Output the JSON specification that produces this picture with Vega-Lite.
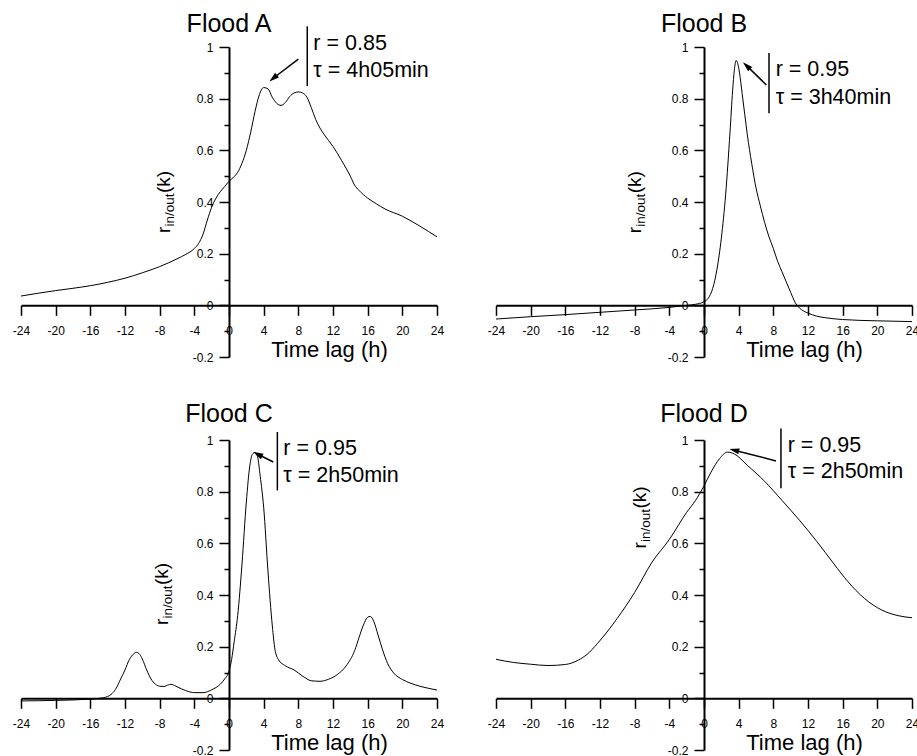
{
  "$schema": "https://vega.github.io/schema/vega-lite/v6.json",
  "background": "white",
  "padding": {"left": 12, "top": 12, "right": 0, "bottom": 0},
  "config": {
    "font": "Liberation Sans",
    "view": {"stroke": null},
    "text": {"font": "Liberation Sans", "color": "black"},
    "axis": {"labelFont": "Liberation Sans", "titleFont": "Liberation Sans", "grid": false, "labelFontSize": 12, "labelColor": "black", "labelOverlap": false, "labelFlush": false, "labelSeparation": 0, "tickColor": "black", "tickWidth": 1.5, "domainColor": "black", "domainWidth": 2, "titleColor": "black", "titleFontWeight": "normal"}
  },
  "datasets": {
    "curves": [
      {"flood":"A","lag":-24,"r":0.036},{"flood":"A","lag":-22,"r":0.047},{"flood":"A","lag":-20,"r":0.057},{"flood":"A","lag":-18,"r":0.066},{"flood":"A","lag":-16,"r":0.076},{"flood":"A","lag":-14,"r":0.089},{"flood":"A","lag":-12,"r":0.105},{"flood":"A","lag":-10,"r":0.126},{"flood":"A","lag":-8,"r":0.15},{"flood":"A","lag":-6,"r":0.18},{"flood":"A","lag":-5,"r":0.197},{"flood":"A","lag":-4,"r":0.22},{"flood":"A","lag":-3.5,"r":0.24},{"flood":"A","lag":-3,"r":0.275},{"flood":"A","lag":-2.5,"r":0.33},{"flood":"A","lag":-2,"r":0.38},{"flood":"A","lag":-1.5,"r":0.415},{"flood":"A","lag":-1,"r":0.44},{"flood":"A","lag":-0.5,"r":0.46},{"flood":"A","lag":0,"r":0.48},{"flood":"A","lag":0.5,"r":0.495},{"flood":"A","lag":1,"r":0.515},{"flood":"A","lag":1.5,"r":0.55},{"flood":"A","lag":2,"r":0.6},{"flood":"A","lag":2.5,"r":0.67},{"flood":"A","lag":3,"r":0.75},{"flood":"A","lag":3.5,"r":0.815},{"flood":"A","lag":4,"r":0.843},{"flood":"A","lag":4.5,"r":0.838},{"flood":"A","lag":5,"r":0.805},{"flood":"A","lag":5.5,"r":0.782},{"flood":"A","lag":6,"r":0.774},{"flood":"A","lag":6.5,"r":0.785},{"flood":"A","lag":7,"r":0.808},{"flood":"A","lag":7.5,"r":0.822},{"flood":"A","lag":8,"r":0.826},{"flood":"A","lag":8.5,"r":0.822},{"flood":"A","lag":9,"r":0.805},{"flood":"A","lag":9.5,"r":0.765},{"flood":"A","lag":10,"r":0.72},{"flood":"A","lag":10.5,"r":0.686},{"flood":"A","lag":11,"r":0.66},{"flood":"A","lag":12,"r":0.615},{"flood":"A","lag":13,"r":0.56},{"flood":"A","lag":14,"r":0.5},{"flood":"A","lag":14.5,"r":0.465},{"flood":"A","lag":15,"r":0.445},{"flood":"A","lag":16,"r":0.415},{"flood":"A","lag":17,"r":0.393},{"flood":"A","lag":18,"r":0.373},{"flood":"A","lag":20,"r":0.345},{"flood":"A","lag":22,"r":0.307},{"flood":"A","lag":24,"r":0.265},
      {"flood":"B","lag":-24,"r":-0.053},{"flood":"B","lag":-20,"r":-0.044},{"flood":"B","lag":-16,"r":-0.036},{"flood":"B","lag":-12,"r":-0.027},{"flood":"B","lag":-8,"r":-0.018},{"flood":"B","lag":-4,"r":-0.008},{"flood":"B","lag":-2,"r":0},{"flood":"B","lag":-1,"r":0.004},{"flood":"B","lag":0,"r":0.014},{"flood":"B","lag":0.5,"r":0.028},{"flood":"B","lag":1,"r":0.065},{"flood":"B","lag":1.5,"r":0.14},{"flood":"B","lag":2,"r":0.26},{"flood":"B","lag":2.5,"r":0.43},{"flood":"B","lag":3,"r":0.67},{"flood":"B","lag":3.3,"r":0.83},{"flood":"B","lag":3.5,"r":0.91},{"flood":"B","lag":3.7,"r":0.948},{"flood":"B","lag":3.9,"r":0.935},{"flood":"B","lag":4.1,"r":0.9},{"flood":"B","lag":4.4,"r":0.82},{"flood":"B","lag":4.7,"r":0.74},{"flood":"B","lag":5,"r":0.66},{"flood":"B","lag":5.5,"r":0.55},{"flood":"B","lag":6,"r":0.455},{"flood":"B","lag":6.5,"r":0.385},{"flood":"B","lag":7,"r":0.32},{"flood":"B","lag":7.5,"r":0.265},{"flood":"B","lag":8,"r":0.22},{"flood":"B","lag":8.5,"r":0.17},{"flood":"B","lag":9,"r":0.13},{"flood":"B","lag":9.5,"r":0.09},{"flood":"B","lag":10,"r":0.05},{"flood":"B","lag":10.5,"r":0.012},{"flood":"B","lag":11,"r":-0.01},{"flood":"B","lag":11.5,"r":-0.022},{"flood":"B","lag":12,"r":-0.03},{"flood":"B","lag":13,"r":-0.042},{"flood":"B","lag":14,"r":-0.048},{"flood":"B","lag":16,"r":-0.055},{"flood":"B","lag":20,"r":-0.06},{"flood":"B","lag":24,"r":-0.063},
      {"flood":"C","lag":-24,"r":-0.01},{"flood":"C","lag":-20,"r":-0.008},{"flood":"C","lag":-16,"r":-0.003},{"flood":"C","lag":-15,"r":0},{"flood":"C","lag":-14,"r":0.007},{"flood":"C","lag":-13.5,"r":0.018},{"flood":"C","lag":-13,"r":0.04},{"flood":"C","lag":-12.5,"r":0.075},{"flood":"C","lag":-12,"r":0.11},{"flood":"C","lag":-11.5,"r":0.15},{"flood":"C","lag":-11,"r":0.172},{"flood":"C","lag":-10.7,"r":0.178},{"flood":"C","lag":-10.3,"r":0.17},{"flood":"C","lag":-10,"r":0.152},{"flood":"C","lag":-9.5,"r":0.11},{"flood":"C","lag":-9,"r":0.075},{"flood":"C","lag":-8.5,"r":0.055},{"flood":"C","lag":-8,"r":0.047},{"flood":"C","lag":-7.5,"r":0.046},{"flood":"C","lag":-7,"r":0.052},{"flood":"C","lag":-6.7,"r":0.054},{"flood":"C","lag":-6.3,"r":0.05},{"flood":"C","lag":-6,"r":0.045},{"flood":"C","lag":-5,"r":0.03},{"flood":"C","lag":-4,"r":0.022},{"flood":"C","lag":-3,"r":0.022},{"flood":"C","lag":-2,"r":0.033},{"flood":"C","lag":-1,"r":0.055},{"flood":"C","lag":-0.5,"r":0.075},{"flood":"C","lag":0,"r":0.105},{"flood":"C","lag":0.3,"r":0.15},{"flood":"C","lag":0.6,"r":0.22},{"flood":"C","lag":1,"r":0.32},{"flood":"C","lag":1.5,"r":0.52},{"flood":"C","lag":2,"r":0.76},{"flood":"C","lag":2.4,"r":0.9},{"flood":"C","lag":2.7,"r":0.945},{"flood":"C","lag":3,"r":0.952},{"flood":"C","lag":3.3,"r":0.935},{"flood":"C","lag":3.6,"r":0.86},{"flood":"C","lag":4,"r":0.74},{"flood":"C","lag":4.5,"r":0.49},{"flood":"C","lag":5,"r":0.28},{"flood":"C","lag":5.3,"r":0.19},{"flood":"C","lag":5.7,"r":0.15},{"flood":"C","lag":6.5,"r":0.126},{"flood":"C","lag":7.5,"r":0.11},{"flood":"C","lag":8.5,"r":0.086},{"flood":"C","lag":9.5,"r":0.068},{"flood":"C","lag":10.5,"r":0.066},{"flood":"C","lag":11.5,"r":0.074},{"flood":"C","lag":12.5,"r":0.092},{"flood":"C","lag":13.5,"r":0.125},{"flood":"C","lag":14.5,"r":0.185},{"flood":"C","lag":15,"r":0.235},{"flood":"C","lag":15.5,"r":0.283},{"flood":"C","lag":16,"r":0.314},{"flood":"C","lag":16.3,"r":0.317},{"flood":"C","lag":16.7,"r":0.298},{"flood":"C","lag":17.2,"r":0.245},{"flood":"C","lag":17.7,"r":0.19},{"flood":"C","lag":18.3,"r":0.135},{"flood":"C","lag":19,"r":0.098},{"flood":"C","lag":20,"r":0.073},{"flood":"C","lag":21,"r":0.058},{"flood":"C","lag":22,"r":0.047},{"flood":"C","lag":23,"r":0.039},{"flood":"C","lag":24,"r":0.032},
      {"flood":"D","lag":-24,"r":0.151},{"flood":"D","lag":-22,"r":0.139},{"flood":"D","lag":-20,"r":0.132},{"flood":"D","lag":-18,"r":0.127},{"flood":"D","lag":-16,"r":0.131},{"flood":"D","lag":-14.5,"r":0.148},{"flood":"D","lag":-13.5,"r":0.17},{"flood":"D","lag":-12.3,"r":0.212},{"flood":"D","lag":-11,"r":0.265},{"flood":"D","lag":-10,"r":0.31},{"flood":"D","lag":-8,"r":0.41},{"flood":"D","lag":-6,"r":0.527},{"flood":"D","lag":-4,"r":0.615},{"flood":"D","lag":-2,"r":0.72},{"flood":"D","lag":-1,"r":0.765},{"flood":"D","lag":0,"r":0.822},{"flood":"D","lag":0.8,"r":0.875},{"flood":"D","lag":1.8,"r":0.928},{"flood":"D","lag":2.7,"r":0.953},{"flood":"D","lag":3.5,"r":0.946},{"flood":"D","lag":5,"r":0.902},{"flood":"D","lag":7,"r":0.84},{"flood":"D","lag":9,"r":0.766},{"flood":"D","lag":11,"r":0.69},{"flood":"D","lag":13,"r":0.608},{"flood":"D","lag":15,"r":0.52},{"flood":"D","lag":16.6,"r":0.452},{"flood":"D","lag":18.5,"r":0.387},{"flood":"D","lag":20.5,"r":0.342},{"flood":"D","lag":22.4,"r":0.32},{"flood":"D","lag":24,"r":0.312}
    ],
    "notes": [
      {"flood":"A","title":"Flood A","r_label":"r = 0.85","tau_label":"τ = 4h05min"},
      {"flood":"B","title":"Flood B","r_label":"r = 0.95","tau_label":"τ = 3h40min"},
      {"flood":"C","title":"Flood C","r_label":"r = 0.95","tau_label":"τ = 2h50min"},
      {"flood":"D","title":"Flood D","r_label":"r = 0.95","tau_label":"τ = 2h50min"}
    ]
  },
  "concat": [
    {
      "width": 416, "height": 310,
      "resolve": {"axis": {"x": "independent", "y": "independent"}},
      "layer": [
        {"data": {"name": "curves"}, "transform": [{"filter": "datum.flood === 'A'"}],
         "mark": {"type": "line", "color": "black", "strokeWidth": 1, "interpolate": "monotone"},
         "encoding": {
           "x": {"field": "lag", "type": "quantitative", "scale": {"domain": [-24, 24], "nice": false, "zero": false},
                 "axis": {"orient": "bottom", "title": "Time lag (h)", "titleFontSize": 22, "titleX": 308, "titleY": 51, "titleBaseline": "alphabetic", "titleAlign": "center", "offset": -51.67, "values": [-24,-20,-16,-12,-8,-4,0,4,8,12,16,20,24], "labelExpr": "'' + datum.value", "labelFontSize": 12, "labelOverlap": false, "labelFlush": false, "labelPadding": 10, "tickSize": 10}},
           "y": {"field": "r", "type": "quantitative", "scale": {"domain": [-0.2, 1], "nice": false, "zero": false},
                 "axis": {"orient": "left", "title": null, "offset": -208, "values": [-0.2,-0.1,0,0.1,0.2,0.3,0.4,0.5,0.6,0.7,0.8,0.9,1], "labelExpr": "round(datum.value*10) % 2 == 0 ? '' + datum.value : ''", "labelFontSize": 12, "labelOverlap": false, "labelFlush": false, "labelPadding": 6, "tickSize": {"condition": {"test": "round(datum.value*10) % 2 == 0", "value": 10}, "value": 5}}}
         }},
        {"data": {"name": "notes"}, "transform": [{"filter": "datum.flood === 'A'"}],
         "mark": {"type": "text", "align": "center", "baseline": "alphabetic", "fontSize": 25},
         "encoding": {"x": {"datum": 0, "axis": null}, "y": {"datum": 1.058, "axis": null}, "text": {"field": "title"}}},
        {"data": {"name": "notes"}, "transform": [{"filter": "datum.flood === 'A'"}],
         "mark": {"type": "rule", "color": "black", "strokeWidth": 1.5},
         "encoding": {"x": {"datum": 9.03, "axis": null}, "y": {"datum": 1.08, "axis": null}, "y2": {"datum": 0.849}}},
        {"data": {"name": "notes"}, "transform": [{"filter": "datum.flood === 'A'"}],
         "mark": {"type": "rule", "color": "black", "strokeWidth": 1.5},
         "encoding": {"x": {"datum": 8.0, "axis": null}, "y": {"datum": 0.953, "axis": null}, "x2": {"datum": 5.1}, "y2": {"datum": 0.879}}},
        {"data": {"name": "notes"}, "transform": [{"filter": "datum.flood === 'A'"}],
         "mark": {"type": "point", "shape": "M0,-1L0.6,1L-0.6,1Z", "filled": true, "color": "black", "opacity": 1, "size": 100, "angle": 230.4},
         "encoding": {"x": {"datum": 5.1, "axis": null}, "y": {"datum": 0.879, "axis": null}}},
        {"data": {"name": "notes"}, "transform": [{"filter": "datum.flood === 'A'"}],
         "mark": {"type": "text", "align": "left", "baseline": "alphabetic", "fontSize": 21.5},
         "encoding": {"x": {"datum": 9.73, "axis": null}, "y": {"datum": 0.987, "axis": null}, "text": {"field": "r_label"}}},
        {"data": {"name": "notes"}, "transform": [{"filter": "datum.flood === 'A'"}],
         "mark": {"type": "text", "align": "left", "baseline": "alphabetic", "fontSize": 21.5},
         "encoding": {"x": {"datum": 9.73, "axis": null}, "y": {"datum": 0.884, "axis": null}, "text": {"field": "tau_label"}}},
        {"data": {"name": "notes"}, "transform": [{"filter": "datum.flood === 'A'"}],
         "mark": {"type": "text", "align": "left", "baseline": "alphabetic", "fontSize": 19, "angle": 270},
         "encoding": {"x": {"datum": -6.81, "axis": null}, "y": {"datum": 0.28, "axis": null}, "text": {"value": "r"}}},
        {"data": {"name": "notes"}, "transform": [{"filter": "datum.flood === 'A'"}],
         "mark": {"type": "text", "align": "left", "baseline": "alphabetic", "fontSize": 13.5, "angle": 270, "dx": 6.5, "dy": 4},
         "encoding": {"x": {"datum": -6.81, "axis": null}, "y": {"datum": 0.28, "axis": null}, "text": {"value": "in/out"}}},
        {"data": {"name": "notes"}, "transform": [{"filter": "datum.flood === 'A'"}],
         "mark": {"type": "text", "align": "left", "baseline": "alphabetic", "fontSize": 19, "angle": 270, "dx": 40},
         "encoding": {"x": {"datum": -6.81, "axis": null}, "y": {"datum": 0.28, "axis": null}, "text": {"value": "(k)"}}}
      ]
    },
    {
      "width": 416, "height": 310,
      "resolve": {"axis": {"x": "independent", "y": "independent"}},
      "layer": [
        {"data": {"name": "curves"}, "transform": [{"filter": "datum.flood === 'B'"}],
         "mark": {"type": "line", "color": "black", "strokeWidth": 1, "interpolate": "monotone"},
         "encoding": {
           "x": {"field": "lag", "type": "quantitative", "scale": {"domain": [-24, 24], "nice": false, "zero": false},
                 "axis": {"orient": "bottom", "title": "Time lag (h)", "titleFontSize": 22, "titleX": 308, "titleY": 51, "titleBaseline": "alphabetic", "titleAlign": "center", "offset": -51.67, "values": [-24,-20,-16,-12,-8,-4,0,4,8,12,16,20,24], "labelExpr": "'' + datum.value", "labelFontSize": 12, "labelOverlap": false, "labelFlush": false, "labelPadding": 10, "tickSize": 10}},
           "y": {"field": "r", "type": "quantitative", "scale": {"domain": [-0.2, 1], "nice": false, "zero": false},
                 "axis": {"orient": "left", "title": null, "offset": -208, "values": [-0.2,-0.1,0,0.1,0.2,0.3,0.4,0.5,0.6,0.7,0.8,0.9,1], "labelExpr": "round(datum.value*10) % 2 == 0 ? '' + datum.value : ''", "labelFontSize": 12, "labelOverlap": false, "labelFlush": false, "labelPadding": 6, "tickSize": {"condition": {"test": "round(datum.value*10) % 2 == 0", "value": 10}, "value": 5}}}
         }},
        {"data": {"name": "notes"}, "transform": [{"filter": "datum.flood === 'B'"}],
         "mark": {"type": "text", "align": "center", "baseline": "alphabetic", "fontSize": 25},
         "encoding": {"x": {"datum": 0, "axis": null}, "y": {"datum": 1.058, "axis": null}, "text": {"field": "title"}}},
        {"data": {"name": "notes"}, "transform": [{"filter": "datum.flood === 'B'"}],
         "mark": {"type": "rule", "color": "black", "strokeWidth": 1.5},
         "encoding": {"x": {"datum": 7.5, "axis": null}, "y": {"datum": 0.977, "axis": null}, "y2": {"datum": 0.744}}},
        {"data": {"name": "notes"}, "transform": [{"filter": "datum.flood === 'B'"}],
         "mark": {"type": "rule", "color": "black", "strokeWidth": 1.5},
         "encoding": {"x": {"datum": 7.2, "axis": null}, "y": {"datum": 0.853, "axis": null}, "x2": {"datum": 4.91}, "y2": {"datum": 0.928}}},
        {"data": {"name": "notes"}, "transform": [{"filter": "datum.flood === 'B'"}],
         "mark": {"type": "point", "shape": "M0,-1L0.6,1L-0.6,1Z", "filled": true, "color": "black", "opacity": 1, "size": 100, "angle": 314},
         "encoding": {"x": {"datum": 4.91, "axis": null}, "y": {"datum": 0.928, "axis": null}}},
        {"data": {"name": "notes"}, "transform": [{"filter": "datum.flood === 'B'"}],
         "mark": {"type": "text", "align": "left", "baseline": "alphabetic", "fontSize": 21.5},
         "encoding": {"x": {"datum": 8.27, "axis": null}, "y": {"datum": 0.886, "axis": null}, "text": {"field": "r_label"}}},
        {"data": {"name": "notes"}, "transform": [{"filter": "datum.flood === 'B'"}],
         "mark": {"type": "text", "align": "left", "baseline": "alphabetic", "fontSize": 21.5},
         "encoding": {"x": {"datum": 8.27, "axis": null}, "y": {"datum": 0.78, "axis": null}, "text": {"field": "tau_label"}}},
        {"data": {"name": "notes"}, "transform": [{"filter": "datum.flood === 'B'"}],
         "mark": {"type": "text", "align": "left", "baseline": "alphabetic", "fontSize": 19, "angle": 270},
         "encoding": {"x": {"datum": -7.27, "axis": null}, "y": {"datum": 0.279, "axis": null}, "text": {"value": "r"}}},
        {"data": {"name": "notes"}, "transform": [{"filter": "datum.flood === 'B'"}],
         "mark": {"type": "text", "align": "left", "baseline": "alphabetic", "fontSize": 13.5, "angle": 270, "dx": 6.5, "dy": 4},
         "encoding": {"x": {"datum": -7.27, "axis": null}, "y": {"datum": 0.279, "axis": null}, "text": {"value": "in/out"}}},
        {"data": {"name": "notes"}, "transform": [{"filter": "datum.flood === 'B'"}],
         "mark": {"type": "text", "align": "left", "baseline": "alphabetic", "fontSize": 19, "angle": 270, "dx": 40},
         "encoding": {"x": {"datum": -7.27, "axis": null}, "y": {"datum": 0.279, "axis": null}, "text": {"value": "(k)"}}}
      ]
    },
    {
      "width": 416, "height": 310,
      "resolve": {"axis": {"x": "independent", "y": "independent"}},
      "layer": [
        {"data": {"name": "curves"}, "transform": [{"filter": "datum.flood === 'C'"}],
         "mark": {"type": "line", "color": "black", "strokeWidth": 1, "interpolate": "monotone"},
         "encoding": {
           "x": {"field": "lag", "type": "quantitative", "scale": {"domain": [-24, 24], "nice": false, "zero": false},
                 "axis": {"orient": "bottom", "title": "Time lag (h)", "titleFontSize": 22, "titleX": 308, "titleY": 51, "titleBaseline": "alphabetic", "titleAlign": "center", "offset": -51.67, "values": [-24,-20,-16,-12,-8,-4,0,4,8,12,16,20,24], "labelExpr": "'' + datum.value", "labelFontSize": 12, "labelOverlap": false, "labelFlush": false, "labelPadding": 10, "tickSize": 10}},
           "y": {"field": "r", "type": "quantitative", "scale": {"domain": [-0.2, 1], "nice": false, "zero": false},
                 "axis": {"orient": "left", "title": null, "offset": -208, "values": [-0.2,-0.1,0,0.1,0.2,0.3,0.4,0.5,0.6,0.7,0.8,0.9,1], "labelExpr": "round(datum.value*10) % 2 == 0 ? '' + datum.value : ''", "labelFontSize": 12, "labelOverlap": false, "labelFlush": false, "labelPadding": 6, "tickSize": {"condition": {"test": "round(datum.value*10) % 2 == 0", "value": 10}, "value": 5}}}
         }},
        {"data": {"name": "notes"}, "transform": [{"filter": "datum.flood === 'C'"}],
         "mark": {"type": "text", "align": "center", "baseline": "alphabetic", "fontSize": 25},
         "encoding": {"x": {"datum": 0, "axis": null}, "y": {"datum": 1.0685, "axis": null}, "text": {"field": "title"}}},
        {"data": {"name": "notes"}, "transform": [{"filter": "datum.flood === 'C'"}],
         "mark": {"type": "rule", "color": "black", "strokeWidth": 1.5},
         "encoding": {"x": {"datum": 5.58, "axis": null}, "y": {"datum": 1.031, "axis": null}, "y2": {"datum": 0.805}}},
        {"data": {"name": "notes"}, "transform": [{"filter": "datum.flood === 'C'"}],
         "mark": {"type": "rule", "color": "black", "strokeWidth": 1.5},
         "encoding": {"x": {"datum": 5.11, "axis": null}, "y": {"datum": 0.915, "axis": null}, "x2": {"datum": 3.32}, "y2": {"datum": 0.945}}},
        {"data": {"name": "notes"}, "transform": [{"filter": "datum.flood === 'C'"}],
         "mark": {"type": "point", "shape": "M0,-1L0.6,1L-0.6,1Z", "filled": true, "color": "black", "opacity": 1, "size": 100, "angle": 296.6},
         "encoding": {"x": {"datum": 3.32, "axis": null}, "y": {"datum": 0.945, "axis": null}}},
        {"data": {"name": "notes"}, "transform": [{"filter": "datum.flood === 'C'"}],
         "mark": {"type": "text", "align": "left", "baseline": "alphabetic", "fontSize": 21.5},
         "encoding": {"x": {"datum": 6.27, "axis": null}, "y": {"datum": 0.941, "axis": null}, "text": {"field": "r_label"}}},
        {"data": {"name": "notes"}, "transform": [{"filter": "datum.flood === 'C'"}],
         "mark": {"type": "text", "align": "left", "baseline": "alphabetic", "fontSize": 21.5},
         "encoding": {"x": {"datum": 6.27, "axis": null}, "y": {"datum": 0.837, "axis": null}, "text": {"field": "tau_label"}}},
        {"data": {"name": "notes"}, "transform": [{"filter": "datum.flood === 'C'"}],
         "mark": {"type": "text", "align": "left", "baseline": "alphabetic", "fontSize": 19, "angle": 270},
         "encoding": {"x": {"datum": -6.99, "axis": null}, "y": {"datum": 0.284, "axis": null}, "text": {"value": "r"}}},
        {"data": {"name": "notes"}, "transform": [{"filter": "datum.flood === 'C'"}],
         "mark": {"type": "text", "align": "left", "baseline": "alphabetic", "fontSize": 13.5, "angle": 270, "dx": 6.5, "dy": 4},
         "encoding": {"x": {"datum": -6.99, "axis": null}, "y": {"datum": 0.284, "axis": null}, "text": {"value": "in/out"}}},
        {"data": {"name": "notes"}, "transform": [{"filter": "datum.flood === 'C'"}],
         "mark": {"type": "text", "align": "left", "baseline": "alphabetic", "fontSize": 19, "angle": 270, "dx": 40},
         "encoding": {"x": {"datum": -6.99, "axis": null}, "y": {"datum": 0.284, "axis": null}, "text": {"value": "(k)"}}}
      ]
    },
    {
      "width": 416, "height": 310,
      "resolve": {"axis": {"x": "independent", "y": "independent"}},
      "layer": [
        {"data": {"name": "curves"}, "transform": [{"filter": "datum.flood === 'D'"}],
         "mark": {"type": "line", "color": "black", "strokeWidth": 1, "interpolate": "monotone"},
         "encoding": {
           "x": {"field": "lag", "type": "quantitative", "scale": {"domain": [-24, 24], "nice": false, "zero": false},
                 "axis": {"orient": "bottom", "title": "Time lag (h)", "titleFontSize": 22, "titleX": 308, "titleY": 51, "titleBaseline": "alphabetic", "titleAlign": "center", "offset": -51.67, "values": [-24,-20,-16,-12,-8,-4,0,4,8,12,16,20,24], "labelExpr": "'' + datum.value", "labelFontSize": 12, "labelOverlap": false, "labelFlush": false, "labelPadding": 10, "tickSize": 10}},
           "y": {"field": "r", "type": "quantitative", "scale": {"domain": [-0.2, 1], "nice": false, "zero": false},
                 "axis": {"orient": "left", "title": null, "offset": -208, "values": [-0.2,-0.1,0,0.1,0.2,0.3,0.4,0.5,0.6,0.7,0.8,0.9,1], "labelExpr": "round(datum.value*10) % 2 == 0 ? '' + datum.value : ''", "labelFontSize": 12, "labelOverlap": false, "labelFlush": false, "labelPadding": 6, "tickSize": {"condition": {"test": "round(datum.value*10) % 2 == 0", "value": 10}, "value": 5}}}
         }},
        {"data": {"name": "notes"}, "transform": [{"filter": "datum.flood === 'D'"}],
         "mark": {"type": "text", "align": "center", "baseline": "alphabetic", "fontSize": 25},
         "encoding": {"x": {"datum": 0, "axis": null}, "y": {"datum": 1.0685, "axis": null}, "text": {"field": "title"}}},
        {"data": {"name": "notes"}, "transform": [{"filter": "datum.flood === 'D'"}],
         "mark": {"type": "rule", "color": "black", "strokeWidth": 1.5},
         "encoding": {"x": {"datum": 8.88, "axis": null}, "y": {"datum": 1.045, "axis": null}, "y2": {"datum": 0.813}}},
        {"data": {"name": "notes"}, "transform": [{"filter": "datum.flood === 'D'"}],
         "mark": {"type": "rule", "color": "black", "strokeWidth": 1.5},
         "encoding": {"x": {"datum": 8.31, "axis": null}, "y": {"datum": 0.919, "axis": null}, "x2": {"datum": 3.48}, "y2": {"datum": 0.9605}}},
        {"data": {"name": "notes"}, "transform": [{"filter": "datum.flood === 'D'"}],
         "mark": {"type": "point", "shape": "M0,-1L0.6,1L-0.6,1Z", "filled": true, "color": "black", "opacity": 1, "size": 100, "angle": 284.4},
         "encoding": {"x": {"datum": 3.48, "axis": null}, "y": {"datum": 0.9605, "axis": null}}},
        {"data": {"name": "notes"}, "transform": [{"filter": "datum.flood === 'D'"}],
         "mark": {"type": "text", "align": "left", "baseline": "alphabetic", "fontSize": 21.5},
         "encoding": {"x": {"datum": 9.66, "axis": null}, "y": {"datum": 0.952, "axis": null}, "text": {"field": "r_label"}}},
        {"data": {"name": "notes"}, "transform": [{"filter": "datum.flood === 'D'"}],
         "mark": {"type": "text", "align": "left", "baseline": "alphabetic", "fontSize": 21.5},
         "encoding": {"x": {"datum": 9.66, "axis": null}, "y": {"datum": 0.852, "axis": null}, "text": {"field": "tau_label"}}},
        {"data": {"name": "notes"}, "transform": [{"filter": "datum.flood === 'D'"}],
         "mark": {"type": "text", "align": "left", "baseline": "alphabetic", "fontSize": 19, "angle": 270},
         "encoding": {"x": {"datum": -6.69, "axis": null}, "y": {"datum": 0.58, "axis": null}, "text": {"value": "r"}}},
        {"data": {"name": "notes"}, "transform": [{"filter": "datum.flood === 'D'"}],
         "mark": {"type": "text", "align": "left", "baseline": "alphabetic", "fontSize": 13.5, "angle": 270, "dx": 6.5, "dy": 4},
         "encoding": {"x": {"datum": -6.69, "axis": null}, "y": {"datum": 0.58, "axis": null}, "text": {"value": "in/out"}}},
        {"data": {"name": "notes"}, "transform": [{"filter": "datum.flood === 'D'"}],
         "mark": {"type": "text", "align": "left", "baseline": "alphabetic", "fontSize": 19, "angle": 270, "dx": 40},
         "encoding": {"x": {"datum": -6.69, "axis": null}, "y": {"datum": 0.58, "axis": null}, "text": {"value": "(k)"}}}
      ]
    }
  ],
  "columns": 2,
  "spacing": {"row": 83, "column": 59},
  "bounds": "flush"
}
